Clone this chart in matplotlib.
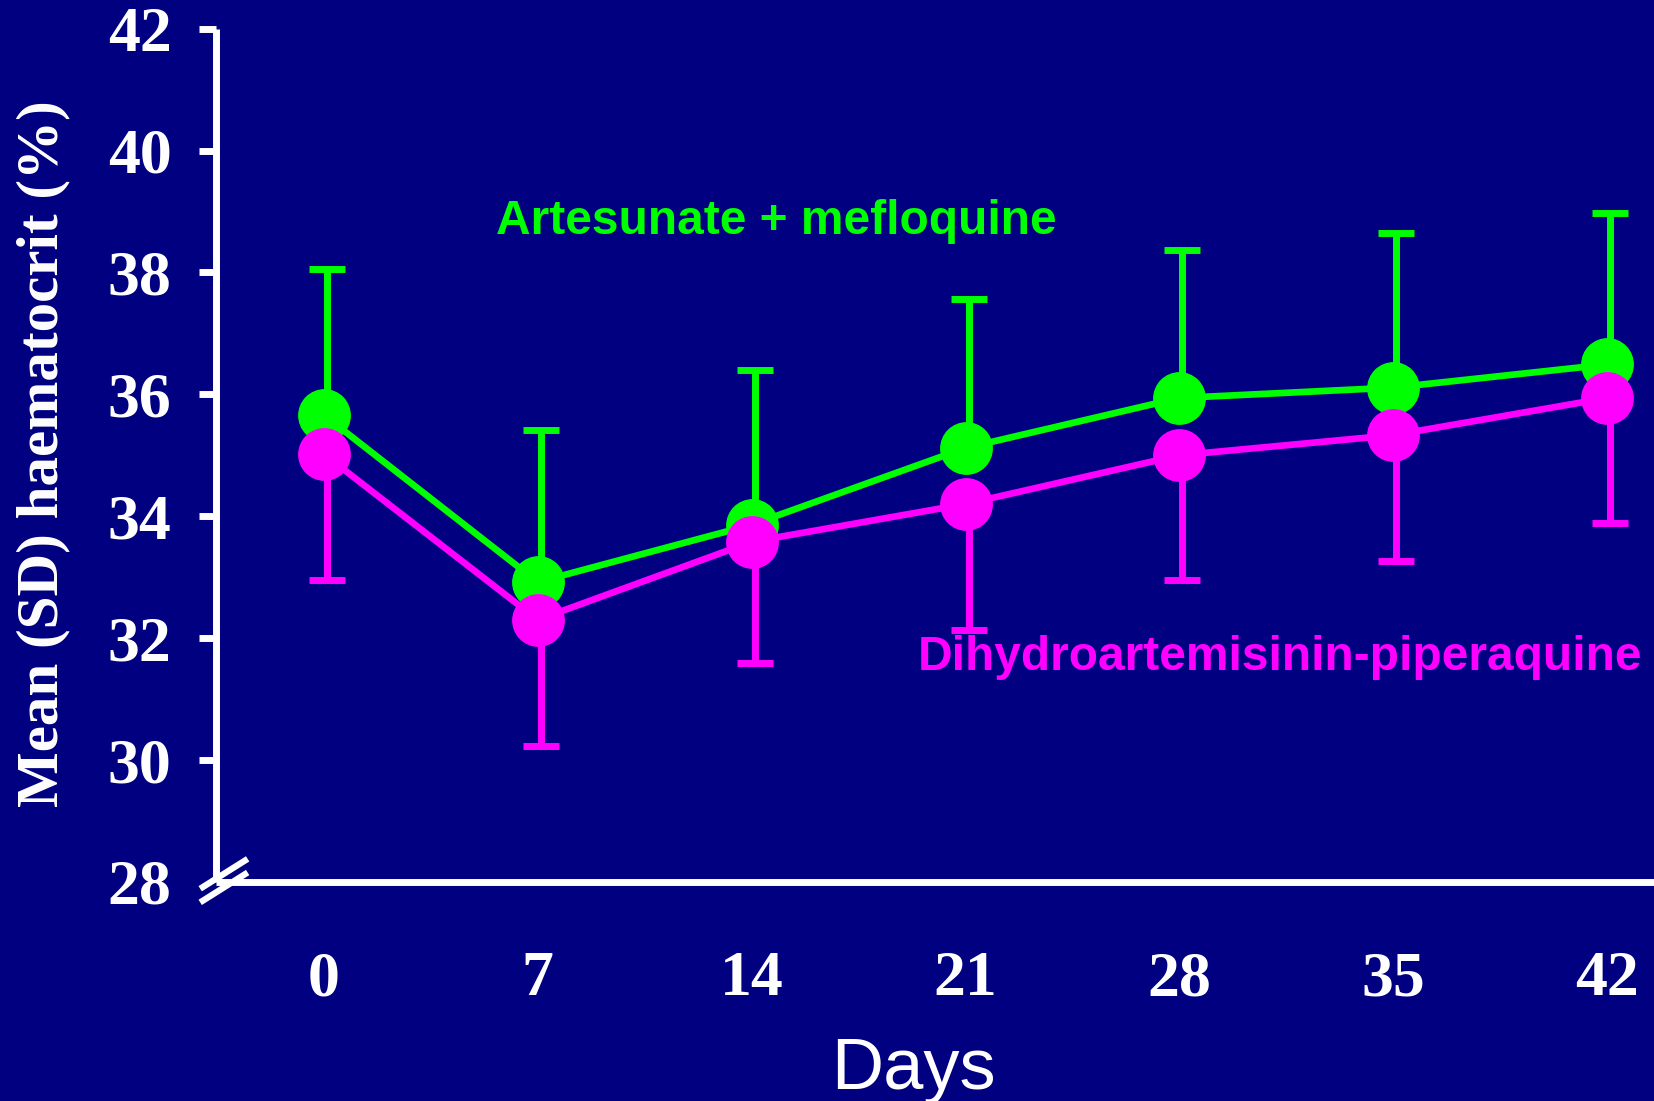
import matplotlib
matplotlib.use("Agg")
import matplotlib.pyplot as plt
from matplotlib.transforms import ScaledTranslation

# data
days = [0, 7, 14, 21, 28, 35, 42]
am_mean = [35.66, 32.92, 33.86, 35.12, 35.94, 36.11, 36.49]
am_upper = [38.05, 35.42, 36.40, 37.56, 38.36, 38.64, 38.98]
dp_mean = [35.02, 32.30, 33.58, 34.20, 35.00, 35.33, 35.94]
dp_lower = [32.95, 30.23, 31.59, 32.14, 32.95, 33.27, 33.89]
yticks = [28, 30, 32, 34, 36, 38, 40, 42]

navy = "#000080"
green = "#00FF00"
magenta = "#FF00FF"

fig = plt.figure(figsize=(16.54, 11.01), dpi=100, facecolor=navy)
ax = fig.add_axes([0.1306, 0.199, 0.8694, 0.775], facecolor=navy)

# one-sided error bars: SD up for AM, SD down for DP
am_err = [[0] * len(days), [u - m for u, m in zip(am_upper, am_mean)]]
dp_err = [[m - l for m, l in zip(dp_mean, dp_lower)], [0] * len(days)]

# the bars sit a hair right of the markers on the slide
shift = ax.transData + ScaledTranslation(3 / 100, 0, fig.dpi_scale_trans)

ax.errorbar(days, am_mean, yerr=am_err, fmt="none", ecolor=green,
            capsize=13, capthick=5, elinewidth=5, transform=shift, zorder=2)
ax.plot(days, am_mean, color=green, lw=4.8, marker="o", ms=37, zorder=3)
ax.errorbar(days, dp_mean, yerr=dp_err, fmt="none", ecolor=magenta,
            capsize=13, capthick=5, elinewidth=5, transform=shift, zorder=4)
ax.plot(days, dp_mean, color=magenta, lw=4.8, marker="o", ms=37, zorder=5)

ax.text(14.8, 38.84, "Artesunate + mefloquine", color=green, fontsize=34.5,
        fontweight="bold", family="Liberation Sans", ha="center", va="center")
ax.text(31.28, 31.68, "Dihydroartemisinin-piperaquine", color=magenta,
        fontsize=34.5, fontweight="bold", family="Liberation Sans",
        ha="center", va="center")

ax.set_xlim(-3.53, 43.53)
ax.set_ylim(28, 42)
ax.set_xticks(days)
ax.set_yticks(yticks)

for s in ["top", "right"]:
    ax.spines[s].set_visible(False)
for s in ["left", "bottom"]:
    ax.spines[s].set_color("white")
    ax.spines[s].set_linewidth(5)
    ax.spines[s].set_capstyle("butt")

ax.tick_params(axis="y", colors="white", length=12, width=5, pad=20,
               labelsize=46)
ax.tick_params(axis="x", colors="white", length=0, pad=50, labelsize=46)
for lab in ax.get_xticklabels() + ax.get_yticklabels():
    lab.set_family("Liberation Serif")
    lab.set_fontweight("bold")
# hide the bottom y tick mark (axis break sits there)
ax.yaxis.get_major_ticks()[0].tick1line.set_visible(False)

# axis break marks
for dy in (0.0, 0.016):
    ax.plot([-0.011, 0.022], [-0.024 + dy, 0.011 + dy], color="white", lw=4.5,
            transform=ax.transAxes, clip_on=False, solid_capstyle="butt")

fig.text(0.552, 0.028, "Days", color="white", fontsize=52,
         family="Liberation Sans", ha="center", va="center")
fig.text(0.026, 0.588, "Mean (SD) haematocrit (%)", color="white", fontsize=42.5,
         fontweight="bold", family="Liberation Serif", rotation=90,
         ha="center", va="center")

fig.savefig("out.png", dpi=100, facecolor=navy)
